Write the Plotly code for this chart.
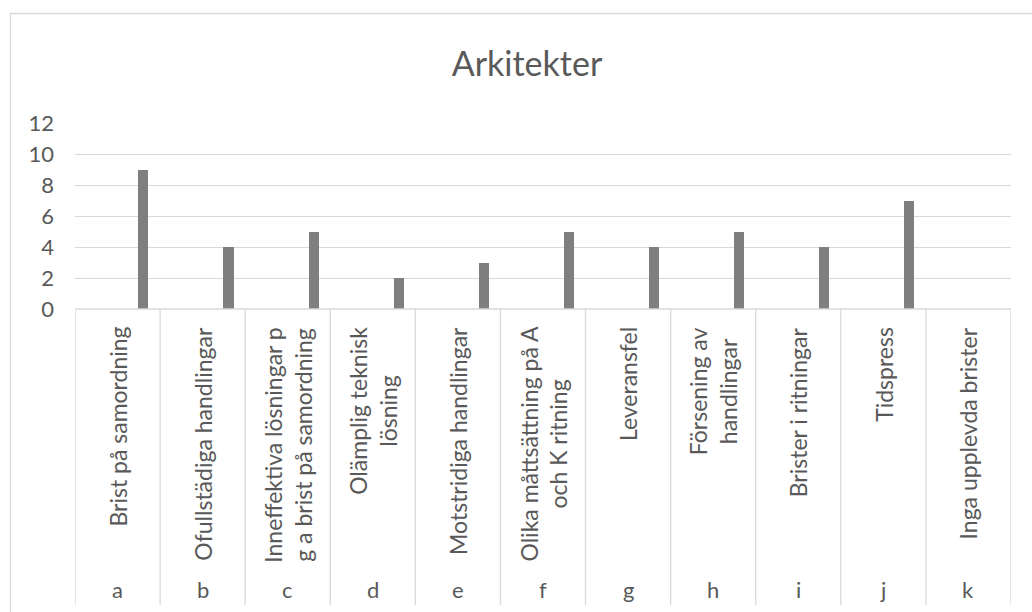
import plotly.graph_objects as go

# Data
letters = ["a", "b", "c", "d", "e", "f", "g", "h", "i", "j", "k"]
descriptions = [
    "Brist på samordning",
    "Ofullstädiga handlingar",
    "Inneffektiva lösningar p<br>g a brist på samordning",
    "Olämplig teknisk<br>lösning",
    "Motstridiga handlingar",
    "Olika måttsättning på A<br>och K ritning",
    "Leveransfel",
    "Försening av<br>handlingar",
    "Brister i ritningar",
    "Tidspress",
    "Inga upplevda brister",
]
counts = [9, 4, 5, 2, 3, 5, 4, 5, 4, 7, 0]
y_ticks = [0, 2, 4, 6, 8, 10, 12]

W, H = 1032, 612
PL, PR, PT, PB = 75, 1011, 123, 309  # plot area in pixels

FONT = "Lato, Calibri, Carlito, sans-serif"
TXT = "#595959"
GRID = "#d9d9d9"


def px_x(px):
    return (px - PL) / (PR - PL)


def px_y(py):
    return (PB - py) / (PB - PT)


fig = go.Figure()
fig.add_trace(go.Bar(
    x=letters,
    y=counts,
    width=0.118,
    offset=0.245,
    marker=dict(color="#7f7f7f", line=dict(width=0)),
    hoverinfo="x+y",
))

shapes = []
# outer chart frame
shapes.append(dict(type="rect", xref="paper", yref="paper",
                   x0=px_x(10.5), x1=px_x(1060), y0=px_y(660), y1=px_y(13.5),
                   line=dict(color=GRID, width=1.3), fillcolor="rgba(0,0,0,0)", layer="below"))
# category separators running down through the label area
for i in range(len(letters) + 1):
    shapes.append(dict(type="line", xref="x", yref="paper",
                       x0=i - 0.5, x1=i - 0.5, y0=0, y1=px_y(605),
                       line=dict(color=GRID, width=1.3)))
# category axis line
shapes.append(dict(type="line", xref="paper", yref="paper",
                   x0=0, x1=1, y0=0, y1=0, line=dict(color=GRID, width=1.3)))

annotations = []
for cat, desc in zip(letters, descriptions):
    annotations.append(dict(
        x=cat, xref="x", y=px_y(325), yref="paper",
        text=desc, textangle=-90, showarrow=False,
        xanchor="center", yanchor="top", align="center",
        font=dict(family=FONT, size=23, color=TXT),
    ))
    annotations.append(dict(
        x=cat, xref="x", y=px_y(589), yref="paper",
        text=cat, showarrow=False,
        xanchor="center", yanchor="middle",
        font=dict(family=FONT, size=22, color=TXT),
    ))

fig.update_layout(
    width=W, height=H, autosize=False,
    margin=dict(l=PL, r=W - PR, t=PT, b=H - PB, pad=0),
    paper_bgcolor="white", plot_bgcolor="white",
    showlegend=False,
    bargap=0,
    title=dict(text="Arkitekter", x=527 / W, xref="container", xanchor="center",
               y=1 - 64 / H, yref="container", yanchor="middle",
               font=dict(family=FONT, size=34, color=TXT)),
    xaxis=dict(type="category", range=[-0.5, len(letters) - 0.5],
               showticklabels=False, showgrid=False, zeroline=False,
               showline=False, ticks=""),
    yaxis=dict(range=[0, 12], tickvals=y_ticks, showgrid=True, gridcolor=GRID,
               gridwidth=1.3, zeroline=False, showline=False, ticks="",
               ticklabelstandoff=20,
               tickfont=dict(family=FONT, size=22, color=TXT)),
    shapes=shapes,
    annotations=annotations,
)

fig.write_html("out.html")
